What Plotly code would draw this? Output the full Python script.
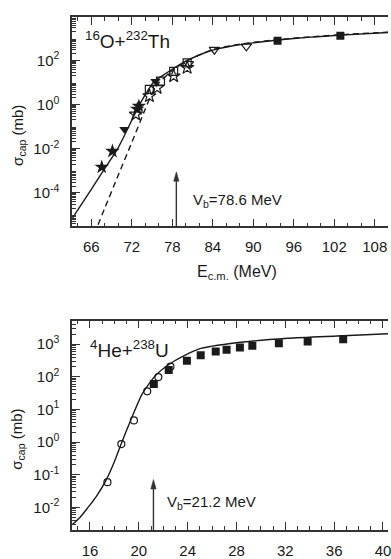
import plotly.graph_objects as go

# ---------------- data: 16O + 232Th ----------------
th_solid_E = [63.16, 64, 66, 68, 69.87, 71, 72.8, 74, 75.26, 76.5, 78, 80, 82, 84, 87, 90, 94, 98, 103, 110]
th_solid_sig = [6.5e-6, 1.66e-5, 1.41e-4, 1.26e-3, 9.5e-3, 4.5e-2, 0.62, 2.8, 10.5, 20, 40, 93, 178, 295, 468, 631, 871, 1122, 1413, 1862]
th_dash_E = [67.0, 68, 70, 72, 74, 75, 76, 78, 80, 82, 84, 88, 94, 103, 110]
th_dash_sig = [3.5e-6, 2.0e-5, 6.3e-4, 1.9e-2, 0.63, 3.2, 9.5, 35, 89, 178, 316, 550, 912, 1479, 1950]

th_fstar_E = [67.55, 69.13, 72.8, 73.05]
th_fstar_sig = [1.45e-3, 7.6e-3, 0.62, 0.85]
th_ftri_E = [70.9, 75.5]
th_ftri_sig = [7.6e-2, 11.5]
th_ostar_E = [72.6, 74.6, 75.75, 78.2, 80.2]
th_ostar_sig = [0.36, 2.45, 5.75, 19.5, 47]
th_osq_E = [74.6, 76.25, 78.2, 80.2]
th_osq_sig = [4.9, 11.5, 32, 78]
th_otri_E = [80.4, 84.24, 88.97]
th_otri_sig = [71, 310, 437]
th_fsq_E = [93.6, 102.9]
th_fsq_sig = [795, 1320]
th_Vb = 78.6

# ---------------- data: 4He + 238U ----------------
u_solid_E = [14.54, 15.2, 15.8, 16.5, 17.3, 18.0, 18.57, 19.34, 20.28, 21.37, 22.72, 24.89, 28.14, 32.2, 36.27, 40.42]
u_solid_sig = [2.95e-3, 5.0e-3, 9.5e-3, 2.1e-2, 6.6e-2, 0.25, 0.91, 4.7, 30, 110, 275, 708, 1122, 1514, 1778, 2089]
u_ocirc_E = [17.43, 18.57, 19.6, 20.69, 21.6, 22.59]
u_ocirc_sig = [5.9e-2, 0.87, 4.6, 36, 98, 204]
u_fsq_E = [21.23, 22.45, 23.94, 25.07, 26.3, 27.19, 28.28, 29.3, 31.47, 33.83, 36.74]
u_fsq_sig = [60, 162, 309, 457, 600, 676, 794, 891, 1072, 1202, 1413]
u_Vb = 21.2

FONT = "Liberation Sans, Arial, sans-serif"
INK = "#1a1a1a"
AX = "#333333"

fig = go.Figure()

def line(x, y, xa, ya, dash="solid"):
    fig.add_trace(go.Scatter(x=x, y=y, mode="lines", xaxis=xa, yaxis=ya,
                             line=dict(color=INK, width=1.4, dash=dash, shape="spline", smoothing=0.6),
                             showlegend=False, hoverinfo="skip"))

def pts(x, y, xa, ya, sym, size, lw=1.2):
    fig.add_trace(go.Scatter(x=x, y=y, mode="markers", xaxis=xa, yaxis=ya,
                             marker=dict(symbol=sym, size=size, color=INK,
                                         line=dict(color=INK, width=lw)),
                             showlegend=False, hoverinfo="skip"))

line(th_solid_E, th_solid_sig, "x", "y")
line(th_dash_E, th_dash_sig, "x", "y", dash="6px,4px")
pts(th_ostar_E, th_ostar_sig, "x", "y", "star-open", 10)
pts(th_osq_E, th_osq_sig, "x", "y", "square-open", 8)
pts(th_otri_E, th_otri_sig, "x", "y", "triangle-down-open", 9)
pts(th_fstar_E, th_fstar_sig, "x", "y", "star", 11, 0)
pts(th_ftri_E, th_ftri_sig, "x", "y", "triangle-down", 9, 0)
pts(th_fsq_E, th_fsq_sig, "x", "y", "square", 8, 0)

line(u_solid_E, u_solid_sig, "x2", "y2")
pts(u_ocirc_E, u_ocirc_sig, "x2", "y2", "circle-open", 7)
pts(u_fsq_E, u_fsq_sig, "x2", "y2", "square", 8, 0)

def minor_log(lo, hi):
    v = []
    for e in range(lo, hi + 1):
        for m in range(2, 10):
            v.append(m * 10 ** e)
    return v

def lab(e):
    return "10<sup>%d</sup>" % e

top_lab_dec = [-4, -2, 0, 2]
top_odd_dec = [-5, -3, -1, 1, 3]
bot_dec = list(range(-2, 4))

xcommon = dict(showline=True, linecolor=AX, linewidth=1.5, mirror="ticks", ticks="inside",
               ticklen=8, tickwidth=1.2, tickcolor=AX, showgrid=False, zeroline=False,
               tickfont=dict(family=FONT, size=15, color=INK), ticklabelstandoff=6,
               ticklabeloverflow="allow")
ycommon = dict(type="log", showline=True, linecolor=AX, linewidth=1.5, mirror=False, ticks="inside",
               ticklen=8, tickwidth=1.2, tickcolor=AX, showgrid=False, zeroline=False,
               tickfont=dict(family=FONT, size=15, color=INK), tickmode="array", ticklabelstandoff=8)

xd = [72.7 / 391, 1.0]
top_dom = [1 - 228 / 559, 1 - 17 / 559]
bot_dom = [1 - 534 / 559, 1 - 323 / 559]
top_yrange = [-5.53, 3.98]
bot_yrange = [-2.7, 3.72]

fig.update_layout(
    width=391, height=559, margin=dict(l=0, r=0, t=0, b=0),
    paper_bgcolor="white", plot_bgcolor="white",
    xaxis=dict(domain=xd, anchor="y", range=[63.16, 109.96], tick0=66, dtick=6,
               minor=dict(ticks="inside", ticklen=4, tickwidth=1, tickcolor=AX, dtick=2, tick0=66),
               **xcommon),
    yaxis=dict(domain=top_dom, anchor="x", range=top_yrange,
               tickvals=[10 ** e for e in top_lab_dec], ticktext=[lab(e) for e in top_lab_dec],
               minor=dict(ticks="inside", ticklen=4, tickwidth=1, tickcolor=AX,
                          tickmode="array", tickvals=minor_log(-6, 3)),
               **ycommon),
    yaxis3=dict(type="log", overlaying="y", anchor="x", side="left", range=top_yrange,
                tickmode="array", tickvals=[10 ** e for e in top_odd_dec], showticklabels=False,
                ticks="inside", ticklen=8, tickwidth=1.2, tickcolor=AX, showline=False,
                showgrid=False, zeroline=False),
    xaxis2=dict(domain=xd, anchor="y2", range=[14.54, 40.41], tick0=16, dtick=4,
                minor=dict(ticks="inside", ticklen=4, tickwidth=1, tickcolor=AX, dtick=1, tick0=16),
                **xcommon),
    yaxis2=dict(domain=bot_dom, anchor="x2", range=bot_yrange,
                tickvals=[10 ** e for e in bot_dec], ticktext=[lab(e) for e in bot_dec],
                minor=dict(ticks="inside", ticklen=4, tickwidth=1, tickcolor=AX,
                           tickmode="array", tickvals=minor_log(-3, 3)),
                **ycommon),
)

# barrier arrows (shaft + head), x at V_b, heights in axis-domain fractions
def arrow(vb, xref, yref, tip, halfw):
    fig.add_shape(type="line", xref=xref, yref=yref, x0=vb, x1=vb, y0=0, y1=tip - 0.02,
                  line=dict(color=AX, width=1.4))
    fig.add_shape(type="path", xref=xref, yref=yref,
                  path="M %f,%f L %f,%f L %f,%f Z" % (vb, tip, vb - halfw, tip - 0.045, vb + halfw, tip - 0.045),
                  fillcolor=AX, line=dict(color=AX, width=0.5))

arrow(th_Vb, "x", "y domain", (228 - 173) / 211, 0.4)
arrow(u_Vb, "x2", "y2 domain", (534 - 483) / 211, 0.22)

ann = []
ann.append(dict(text="<sup>16</sup>O+<sup>232</sup>Th", xref="paper", yref="paper",
                x=84 / 391, y=1 - 40 / 559, xanchor="left", yanchor="middle", showarrow=False,
                font=dict(family=FONT, size=19, color=INK)))
ann.append(dict(text="<sup>4</sup>He+<sup>238</sup>U", xref="paper", yref="paper",
                x=89 / 391, y=1 - 352 / 559, xanchor="left", yanchor="middle", showarrow=False,
                font=dict(family=FONT, size=19, color=INK)))
for yc in (136, 442):
    ann.append(dict(text="σ<sub>cap</sub> (mb)", xref="paper", yref="paper",
                    x=18 / 391, y=1 - yc / 559, textangle=-90, showarrow=False,
                    xanchor="center", yanchor="middle",
                    font=dict(family=FONT, size=15, color=INK)))
ann.append(dict(text="E<sub>c.m.</sub> (MeV)", xref="paper", yref="paper",
                x=239 / 391, y=1 - 274 / 559, showarrow=False, xanchor="center", yanchor="middle",
                font=dict(family=FONT, size=16, color=INK)))
ann.append(dict(text="V<sub>b</sub>=%.1f MeV" % th_Vb, xref="paper", yref="paper",
                x=192 / 391, y=1 - 202 / 559, xanchor="left", yanchor="middle", showarrow=False,
                font=dict(family=FONT, size=15, color=INK)))
ann.append(dict(text="V<sub>b</sub>=%.1f MeV" % u_Vb, xref="paper", yref="paper",
                x=166 / 391, y=1 - 506 / 559, xanchor="left", yanchor="middle", showarrow=False,
                font=dict(family=FONT, size=15, color=INK)))
fig.update_layout(annotations=ann)

fig.write_html("out.html")
